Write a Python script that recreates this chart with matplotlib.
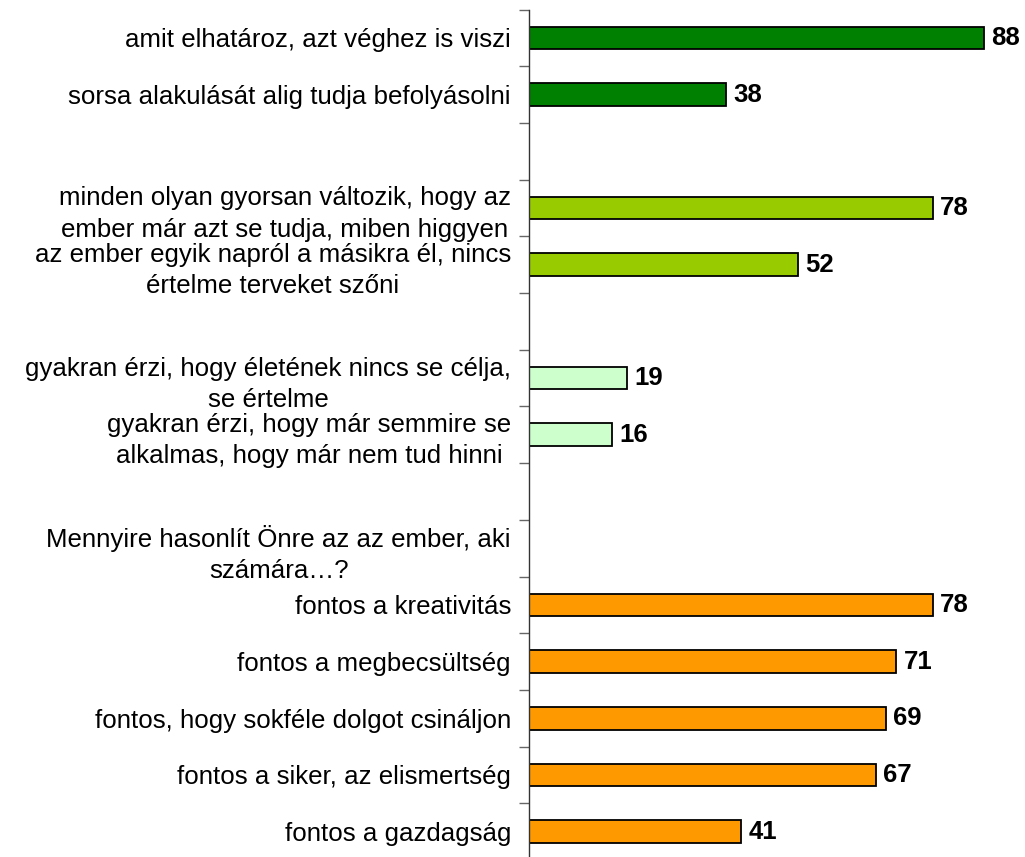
import matplotlib
matplotlib.use("Agg")
import matplotlib.pyplot as plt
import numpy as np

plt.rcParams['font.family'] = ['Liberation Sans', 'DejaVu Sans']

categories = [
    "amit elhatároz, azt véghez is viszi",
    "sorsa alakulását alig tudja befolyásolni",
    "",
    "minden olyan gyorsan változik, hogy az\nember már azt se tudja, miben higgyen",
    "az ember egyik napról a másikra él, nincs\nértelme terveket szőni",
    "",
    "gyakran érzi, hogy életének nincs se célja,\nse értelme",
    "gyakran érzi, hogy már semmire se\nalkalmas, hogy már nem tud hinni",
    "",
    "Mennyire hasonlít Önre az az ember, aki\nszámára…?",
    "fontos a kreativitás",
    "fontos a megbecsültség",
    "fontos, hogy sokféle dolgot csináljon",
    "fontos a siker, az elismertség",
    "fontos a gazdagság",
]
values = [88, 38, None, 78, 52, None, 19, 16, None, None, 78, 71, 69, 67, 41]
groups = [0, 0, None, 1, 1, None, 2, 2, None, None, 3, 3, 3, 3, 3]
group_colors = ["#008000", "#99CC00", "#CCFFCC", "#FF9900"]

W, H = 1025, 857
fig = plt.figure(figsize=(W / 100, H / 100), dpi=100)
left = 529 / W
ax = fig.add_axes([left, -3 / H, 1 - left, (860 - 9.5) / H])

n = len(categories)
pos = np.arange(n)
for p, v, g in zip(pos, values, groups):
    if v is None:
        continue
    ax.barh(p, v, height=0.4, color=group_colors[g], edgecolor="black", linewidth=1.3)
    ax.text(v + 1.4, p, f"{v}", va="center", ha="left", fontsize=18.5, fontweight="bold")

ax.set_xlim(0, 95.85)
ax.set_ylim(n - 0.5, -0.5)

# boundary ticks (major), labels at slot centres (minor)
ax.set_yticks(np.arange(-0.5, n, 1.0))
ax.set_yticklabels([])
ax.set_yticks(pos, minor=True)
ax.set_yticklabels(categories, minor=True)
for t in ax.get_yticklabels(minor=True):
    t.set_multialignment("center")
    t.set_linespacing(1.38)
ax.tick_params(axis="y", which="major", direction="out", length=7, width=1, color="#666666")
ax.tick_params(axis="y", which="minor", length=0, pad=13, labelsize=18.6)

ax.set_xticks([])
for s in ["top", "right", "bottom"]:
    ax.spines[s].set_visible(False)
ax.spines["left"].set_color("#333333")
ax.spines["left"].set_linewidth(1)

fig.savefig("out.png", dpi=100)
